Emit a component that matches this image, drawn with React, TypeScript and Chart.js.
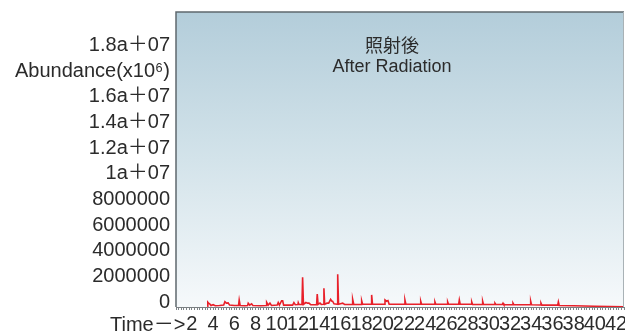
import React, { useEffect, useRef } from "react";
import { Chart, registerables } from "chart.js";

Chart.register(...registerables);

// Retention time (min)
const times = [
  3.45, 3.5, 3.6, 3.7, 3.8, 4.0, 4.2, 4.6, 5.0, 5.11, 5.25, 5.42, 5.55, 6.0, 6.4, 6.46, 6.55,
  7.0, 7.25, 7.31, 7.45, 7.63, 7.75, 8.5, 9.0, 9.05, 9.2, 9.36, 9.5, 10.05, 10.14, 10.25,
  10.46, 10.56, 10.65, 11.5, 11.62, 11.75, 12.0, 12.03, 12.1, 12.38, 12.44, 12.52, 12.75,
  12.9, 13.04, 13.2, 13.76, 13.82, 13.9, 14.08, 14.2, 14.4, 14.45, 14.52, 14.74, 14.9, 15.08,
  15.2, 15.27, 15.4, 15.7, 15.75, 15.83, 16.22, 16.4, 17.1, 17.16, 17.26, 17.95, 18.01, 18.1,
  18.9, 18.95, 19.03, 20.15, 20.21, 20.35, 20.49, 20.6, 22.03, 22.09, 22.18, 23.52, 23.58,
  23.66, 24.86, 24.92, 25.0, 26.06, 26.12, 26.2, 27.16, 27.22, 27.3, 28.33, 28.39, 28.47,
  29.36, 29.42, 29.5, 30.52, 30.58, 30.66, 31.28, 31.34, 31.42, 32.22, 32.28, 32.36, 33.89,
  33.95, 34.03, 34.86, 34.92, 35.0, 36.5, 36.56, 36.64, 38.0, 40.0, 42.75,
];

// Abundance in millions (x10^6)
const abundanceMillions = [
  0.02, 0.38, 0.28, 0.22, 0.12, 0.18, 0.1, 0.12, 0.15, 0.41, 0.3, 0.32, 0.15, 0.12, 0.12, 0.54, 0.12,
  0.1, 0.12, 0.3, 0.15, 0.25, 0.12, 0.1, 0.12, 0.37, 0.15, 0.3, 0.12, 0.15, 0.35, 0.15,
  0.49, 0.49, 0.15, 0.15, 0.34, 0.18, 0.2, 0.34, 0.2, 0.2, 2.31, 0.2, 0.35,
  0.3, 0.3, 0.18, 0.2, 1.01, 0.2, 0.3, 0.2, 0.22, 1.46, 0.22, 0.3, 0.3, 0.6,
  0.45, 0.45, 0.25, 0.22, 2.55, 0.22, 0.3, 0.2, 0.2, 0.6, 0.22, 0.2, 0.49, 0.22,
  0.22, 0.94, 0.22, 0.22, 0.55, 0.45, 0.5, 0.22, 0.22, 0.55, 0.22, 0.22, 0.45,
  0.22, 0.22, 0.4, 0.22, 0.22, 0.4, 0.22, 0.22, 0.55, 0.22, 0.22, 0.4, 0.2,
  0.2, 0.45, 0.2, 0.2, 0.3, 0.2, 0.2, 0.3, 0.18, 0.18, 0.3, 0.18, 0.18,
  0.45, 0.18, 0.16, 0.3, 0.15, 0.15, 0.4, 0.12, 0.1, 0.06, 0.02,
];

const yTickValues = [0, 2000000, 4000000, 6000000, 8000000, 10000000, 12000000, 14000000, 16000000, 18000000, 20000000];
const yTickLabels = [
  "0",
  "2000000",
  "4000000",
  "6000000",
  "8000000",
  "1a＋07",
  "1.2a＋07",
  "1.4a＋07",
  "1.6a＋07",
  "Abundance(x10⁶)",
  "1.8a＋07",
];

const xTickLabelValues = [2, 4, 6, 8, 10, 12, 14, 16, 18, 20, 22, 24, 26, 28, 30, 32, 34, 36, 38, 40, 42];

const titleLines = ["照射後", "After Radiation"];
const xAxisPrefix = "Time－>";

const FONT_FAMILY = '"Liberation Sans", Arial, "Noto Sans CJK JP", sans-serif';
const TEXT_COLOR = "#2b2b2b";

export default function App() {
  const canvasRef = useRef<HTMLCanvasElement | null>(null);

  useEffect(() => {
    const canvas = canvasRef.current;
    if (!canvas) return;

    const decorPlugin = {
      id: "decor",
      beforeDraw(chart: any) {
        const { ctx, chartArea } = chart;
        const { left, top, right, bottom } = chartArea;
        ctx.save();
        const g = ctx.createLinearGradient(0, top, 0, bottom);
        g.addColorStop(0, "#b3cdda");
        g.addColorStop(0.5, "#d3e3ea");
        g.addColorStop(1, "#f6f9fb");
        ctx.fillStyle = g;
        ctx.fillRect(left, top, right - left, bottom - top);
        ctx.restore();
      },
      afterDraw(chart: any) {
        const { ctx, chartArea } = chart;
        const { left, top, right, bottom } = chartArea;
        ctx.save();
        ctx.strokeStyle = "#5f686d";
        ctx.lineWidth = 1.5;
        ctx.beginPath();
        ctx.moveTo(left, bottom);
        ctx.lineTo(left, top);
        ctx.lineTo(right, top);
        ctx.stroke();
        ctx.strokeStyle = "#a9b2b6";
        ctx.lineWidth = 1;
        ctx.beginPath();
        ctx.moveTo(right - 0.5, top);
        ctx.lineTo(right - 0.5, bottom);
        ctx.stroke();
        ctx.strokeStyle = "#7a7f82";
        ctx.beginPath();
        ctx.moveTo(left, bottom + 0.5);
        ctx.lineTo(right, bottom + 0.5);
        ctx.stroke();

        // title inside plot
        ctx.fillStyle = TEXT_COLOR;
        ctx.textAlign = "center";
        ctx.textBaseline = "middle";
        const cx = left + (right - left) * 0.482;
        ctx.font = `18px "Noto Sans CJK JP", sans-serif`;
        ctx.fillText(titleLines[0], cx, top + 33);
        ctx.font = `18px ${FONT_FAMILY}`;
        ctx.fillText(titleLines[1], cx, top + 55);

        // x-axis prefix
        const xs = chart.scales.x;
        ctx.font = `20px ${FONT_FAMILY}`;
        const half = ctx.measureText(String(xTickLabelValues[0])).width / 2;
        ctx.textAlign = "right";
        ctx.fillText(xAxisPrefix, xs.getPixelForValue(xTickLabelValues[0]) - half - 1, 325);
        ctx.restore();
      },
    };

    const chart = new Chart(canvas, {
      type: "line",
      data: {
        datasets: [
          {
            data: times.map((t, i) => ({ x: t, y: abundanceMillions[i] * 1e6 })),
            borderColor: "#e8202a",
            borderWidth: 1.6,
            pointRadius: 0,
            tension: 0,
            fill: false,
          },
        ],
      },
      options: {
        animation: false,
        responsive: false,
        layout: { padding: { top: 12, right: 1, left: 0, bottom: 0 } },
        plugins: {
          legend: { display: false },
          tooltip: { enabled: false },
          title: { display: false },
        },
        scales: {
          x: {
            type: "linear",
            min: 0.5,
            max: 42.75,
            border: { display: false },
            grid: {
              drawOnChartArea: false,
              drawTicks: true,
              tickLength: 3,
              color: "#7d8488",
              tickColor: "#7d8488",
            },
            ticks: {
              stepSize: 0.25,
              autoSkip: false,
              maxRotation: 0,
              minRotation: 0,
              padding: 2,
              color: TEXT_COLOR,
              font: { family: FONT_FAMILY, size: 20 },
              callback: (value: any) =>
                xTickLabelValues.includes(Number(value)) ? String(value) : "",
            },
            afterFit: (scale: any) => {
              scale.height = 26;
              scale.paddingLeft = 0;
              scale.paddingRight = 0;
            },
          },
          y: {
            type: "linear",
            min: 0,
            max: 23000000,
            border: { display: false },
            grid: { display: false, drawTicks: false },
            afterBuildTicks: (scale: any) => {
              scale.ticks = yTickValues.map((v) => ({ value: v }));
            },
            ticks: {
              autoSkip: false,
              padding: 6,
              labelOffset: -5,
              color: TEXT_COLOR,
              font: { family: FONT_FAMILY, size: 20 },
              callback: (value: any) => {
                const idx = yTickValues.indexOf(Number(value));
                return idx >= 0 ? yTickLabels[idx] : "";
              },
            },
            afterFit: (scale: any) => {
              scale.width = 176;
              scale.paddingTop = 0;
              scale.paddingBottom = 0;
            },
          },
        },
      },
      plugins: [decorPlugin],
    });

    return () => chart.destroy();
  }, []);

  return (
    <div style={{ position: "fixed", left: 0, top: 0, width: 625, height: 333, background: "#fff" }}>
      <canvas ref={canvasRef} width={625} height={333} style={{ display: "block" }} />
    </div>
  );
}
